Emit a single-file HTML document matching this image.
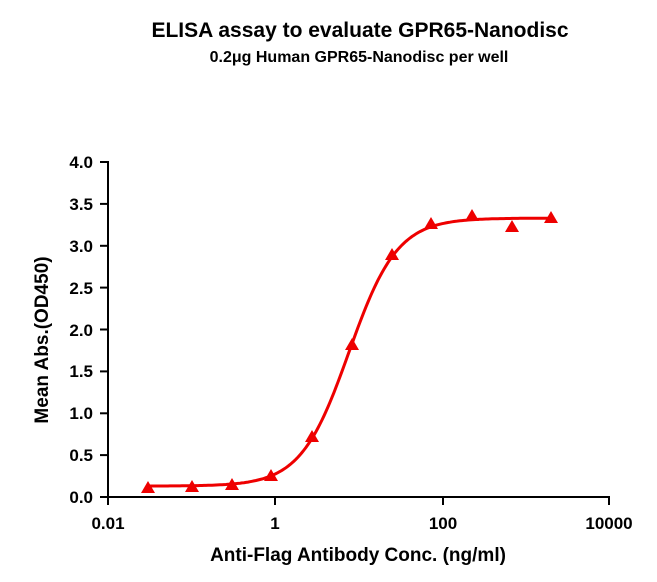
<!DOCTYPE html>
<html><head><meta charset="utf-8"><style>
body{margin:0;background:#fff;}
svg text{font-family:"Liberation Sans",Arial,sans-serif;font-weight:bold;fill:#000;}
</style></head><body>
<svg width="657" height="577" viewBox="0 0 657 577" xmlns="http://www.w3.org/2000/svg">
<text x="360" y="37" font-size="21" text-anchor="middle">ELISA assay to evaluate GPR65-Nanodisc</text>
<text x="359" y="62" font-size="16" text-anchor="middle">0.2μg Human GPR65-Nanodisc per well</text>
<g stroke="#000" stroke-width="2" fill="none">
<line x1="108" y1="161" x2="108" y2="498"/>
<line x1="107" y1="497" x2="610" y2="497"/>
<line x1="100" y1="162" x2="108" y2="162"/>
<line x1="100" y1="203.9" x2="108" y2="203.9"/>
<line x1="100" y1="245.8" x2="108" y2="245.8"/>
<line x1="100" y1="287.6" x2="108" y2="287.6"/>
<line x1="100" y1="329.5" x2="108" y2="329.5"/>
<line x1="100" y1="371.4" x2="108" y2="371.4"/>
<line x1="100" y1="413.3" x2="108" y2="413.3"/>
<line x1="100" y1="455.1" x2="108" y2="455.1"/>
<line x1="100" y1="497" x2="108" y2="497"/>
<line x1="108" y1="497" x2="108" y2="505"/>
<line x1="275" y1="497" x2="275" y2="505"/>
<line x1="443" y1="497" x2="443" y2="505"/>
<line x1="609" y1="497" x2="609" y2="505"/>
</g>
<g font-size="17" text-anchor="end">
<text x="93" y="168">4.0</text><text x="93" y="210">3.5</text><text x="93" y="252">3.0</text>
<text x="93" y="294">2.5</text><text x="93" y="336">2.0</text><text x="93" y="377">1.5</text>
<text x="93" y="419">1.0</text><text x="93" y="461">0.5</text><text x="93" y="503">0.0</text>
</g>
<g font-size="17" text-anchor="middle">
<text x="108" y="529">0.01</text><text x="275" y="529">1</text><text x="443" y="529">100</text><text x="609" y="529">10000</text>
</g>
<text x="358" y="561" font-size="19" text-anchor="middle">Anti-Flag Antibody Conc. (ng/ml)</text>
<text transform="translate(48,340) rotate(-90)" font-size="19" text-anchor="middle">Mean Abs.(OD450)</text>
<path id="curve" fill="none" stroke="#e00" stroke-width="3"/>
<g id="pts" fill="#e00"></g>
</svg>
<script>
var d="";
for(var px=148;px<=552;px+=2){var lx=(px-275)/83.5;var v=0.13+3.2/(1+Math.pow(10,1.5*(0.886-lx)));var py=497-v*83.75;d+=(px==148?"M":"L")+px+","+py.toFixed(1);}
document.getElementById("curve").setAttribute("d",d);
var P=[[148,488],[192,487],[232,485],[271,476],[312,437],[352,345],[392,255],[431,224],[472,216],[512,227],[551,218]];
var g=document.getElementById("pts"),s="";
P.forEach(function(p){s+='<polygon points="'+(p[0]-7)+','+(p[1]+5)+' '+(p[0]+7)+','+(p[1]+5)+' '+p[0]+','+(p[1]-7)+'"/>';});
g.innerHTML=s;
</script>
</body></html>
